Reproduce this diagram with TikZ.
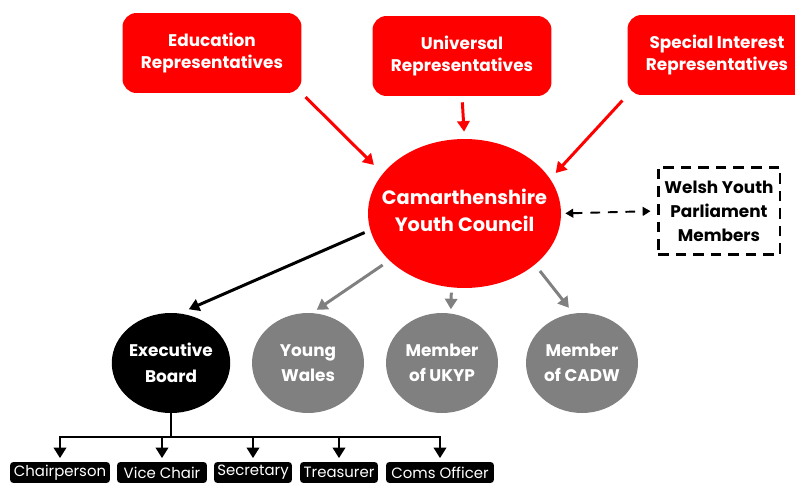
\documentclass[tikz,border=0pt]{standalone}
\usepackage{fontspec}
\setmainfont{Poppins}
\usetikzlibrary{positioning}
\usetikzlibrary{shapes,arrows.meta}
\definecolor{cyred}{HTML}{FF0000}
\definecolor{cygrey}{HTML}{808080}

\begin{document}
\begin{tikzpicture}[x=0.02cm,y=-0.02cm,
  rep/.style={rectangle,rounded corners=0.28cm,fill=cyred,text=white,align=center,
    font=\bfseries\fontsize{9.6}{13}\selectfont,minimum width=3.58cm,minimum height=1.6cm},
  member/.style={ellipse,fill=cygrey,text=white,align=center,inner sep=0pt,
    font=\bfseries\fontsize{9.6}{14.5}\selectfont,minimum width=2.24cm,minimum height=2cm},
  role/.style={rectangle,rounded corners=2pt,fill=black,text=white,inner sep=0pt,
    font=\fontsize{8.5}{10}\selectfont,minimum height=0.42cm},
  into/.style={line width=1.7pt,-{Triangle[length=6pt,width=7pt]}},
  tree/.style={line width=1.7pt}]
\useasboundingbox (0,0) rectangle (795,483);

\path (212,53) node[rep] (edu) {Education\\Representatives}
  (462,56) node[rep] (uni) {Universal\\Representatives}
  (717,55) node[rep] (spec) {Special Interest\\Representatives};

\path (464.5,213.5) node[ellipse,fill=cyred,inner sep=0pt,
    minimum width=3.86cm,minimum height=2.98cm] (council) {}
  (464.5,210) node[text=white,align=center,
    font=\bfseries\fontsize{11}{15.3}\selectfont] (counciltext) {Camarthenshire\\Youth Council}
  (719,211) node[draw,line width=1.7pt,dash pattern=on 6pt off 4pt,align=center,
    minimum width=2.44cm,minimum height=1.76cm,
    font=\bfseries\fontsize{9.6}{13.6}\selectfont] (wyp) {Welsh Youth\\Parliament\\Members};

\path (171,363) node[member,fill=black] (exec) {Executive\\Board}
  (308,363) node[member] (yw) {Young\\Wales}
  (442,363) node[member] (ukyp) {Member\\of UKYP}
  (582,363) node[member] (cadw) {Member\\of CADW};

\path (60,472.5) node[role,minimum width=2cm] (chair) {Chairperson}
  (162,472.5) node[role,minimum width=1.8cm] (vice) {Vice Chair}
  (253,472.5) node[role,minimum width=1.56cm] (sec) {Secretary}
  (339,472.5) node[role,minimum width=1.56cm] (treas) {Treasurer}
  (440,472.5) node[role,minimum width=2.16cm] (coms) {Coms Officer};

% into the council
\draw[into,cyred,shorten <=3pt,shorten >=7pt] (edu.south east) -- (council.154);
\draw[into,cyred,shorten <=3.4pt,shorten >=4pt] (uni.south) -- (council.north);
\draw[into,cyred,shorten <=4pt,shorten >=4.5pt] (spec.south west) -- (council.22);
\draw[line width=1.1pt,dash pattern=on 5.5pt off 4.5pt,
  {Triangle[length=4.5pt,width=5pt]}-{Triangle[length=4.5pt,width=5pt]},
  shorten <=2.3pt,shorten >=3.4pt] (council.east) -- (wyp.west);

% out of the council
\draw[into,black,shorten <=3.4pt,shorten >=5.6pt] (council.190) -- (exec.80);
\draw[into,cygrey,shorten <=4.5pt,shorten >=3pt] (council.212) -- (yw.85);
\draw[into,cygrey,shorten <=2.8pt,shorten >=2.3pt] (council.260) -- (ukyp.80);
\draw[into,cygrey,shorten <=4.5pt,shorten >=4pt] (council.324) -- (cadw.100);

% executive board
\coordinate (split) at (171,437);
\draw[tree] (exec.south) -- (split);
\foreach \r in {chair,vice,sec,treas,coms}
  \draw[tree,-{Triangle[length=6pt,width=7pt]},shorten >=2pt] (split) -| (\r.north);
\end{tikzpicture}
\end{document}
